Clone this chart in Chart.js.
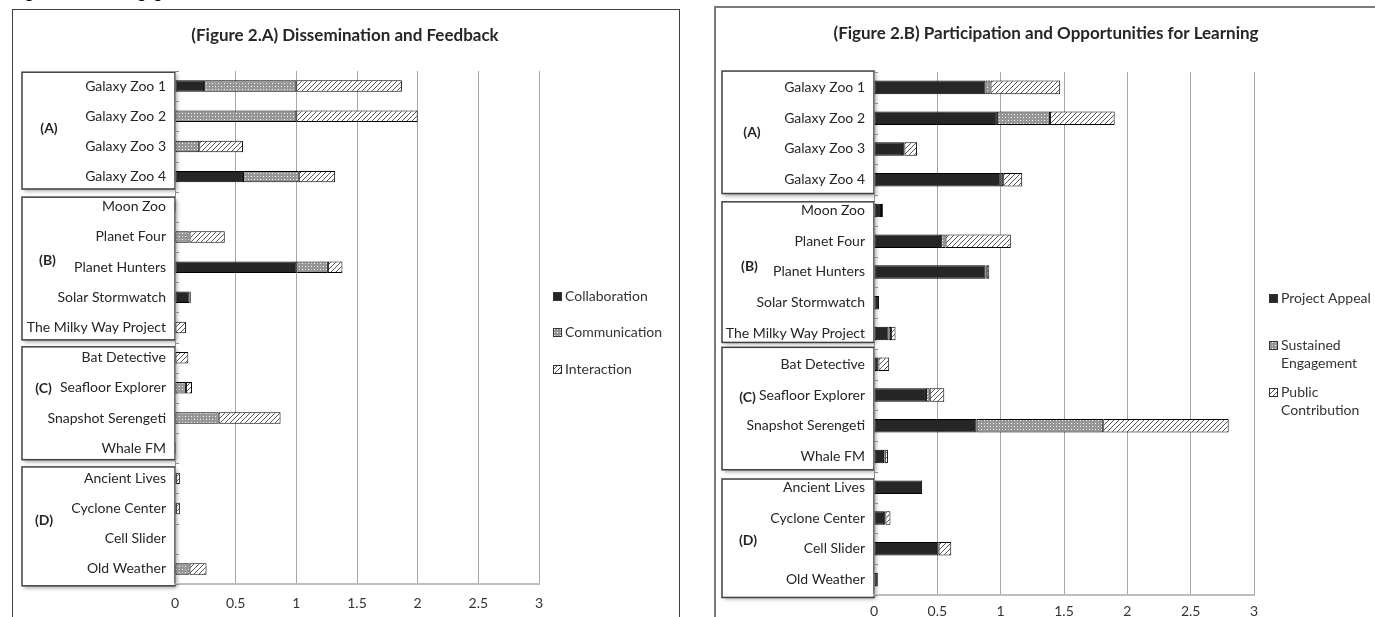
<!DOCTYPE html>
<html>
<head>
<meta charset="utf-8">
<script src="https://cdn.jsdelivr.net/npm/chart.js@4.4.1/dist/chart.umd.min.js"></script>
<style>
body { margin: 0; background: #fff; width: 1375px; height: 617px; overflow: hidden; position: relative; }
.frame { position: absolute; box-sizing: border-box; }
#frameA { left: 12px; top: 9px; width: 668px; height: 640px; border: 1px solid #404040; }
#frameB { left: 714px; top: 6px; width: 700px; height: 640px; border-top: 2px solid #7a7a7a; border-left: 2px solid #7a7a7a; }
canvas { position: absolute; left: 0; top: 0; }
#heading { position: absolute; left: 14px; top: -18px; font: italic bold 16px Lato; color: #000; white-space: nowrap; }
</style>
</head>
<body>
<div id="heading">Figure 2: Public Engagement</div>
<div class="frame" id="frameA"><canvas id="chartA" width="666" height="607"></canvas></div>
<div class="frame" id="frameB"><canvas id="chartB" width="659" height="609"></canvas></div>
<script>
const projects = ['Galaxy Zoo 1', 'Galaxy Zoo 2', 'Galaxy Zoo 3', 'Galaxy Zoo 4',
    'Moon Zoo', 'Planet Four', 'Planet Hunters', 'Solar Stormwatch', 'The Milky Way Project',
    'Bat Detective', 'Seafloor Explorer', 'Snapshot Serengeti', 'Whale FM',
    'Ancient Lives', 'Cyclone Center', 'Cell Slider', 'Old Weather'];
const groupNames = ['(A)', '(B)', '(C)', '(D)'];
const xTicks = [0, 0.5, 1, 1.5, 2, 2.5, 3];

// Figure 2.A
const collaboration = [0.24, 0, 0, 0.56, 0.01, 0, 1.0, 0.12, 0, 0, 0, 0, 0, 0.01, 0.01, 0, 0];
const communication = [0.76, 1.0, 0.2, 0.46, 0, 0.12, 0.26, 0, 0, 0, 0.09, 0.36, 0, 0, 0, 0, 0.12];
const interaction   = [0.87, 1.0, 0.36, 0.30, 0, 0.29, 0.12, 0.01, 0.09, 0.11, 0.05, 0.51, 0.01, 0.03, 0.03, 0, 0.14];

// Figure 2.B
const projectAppeal       = [0.88, 0.97, 0.23, 1.0, 0.055, 0.53, 0.88, 0.04, 0.115, 0.035, 0.41, 0.81, 0.08, 0.38, 0.08, 0.51, 0.03];
const sustainedEngagement = [0.04, 0.42, 0.01, 0.02, 0, 0.035, 0.01, 0, 0.02, 0, 0.03, 1.0, 0.005, 0, 0.01, 0, 0];
const publicContribution  = [0.55, 0.51, 0.10, 0.15, 0.015, 0.515, 0.02, 0, 0.035, 0.085, 0.115, 0.99, 0.025, 0, 0.04, 0.10, 0];

function makePattern(kind) {
    const c = document.createElement('canvas');
    const s = kind === 'hatch' ? 5 : 6;
    c.width = s; c.height = s;
    const g = c.getContext('2d');
    if (kind === 'hatch') {
        g.fillStyle = '#fff';
        g.fillRect(0, 0, s, s);
        g.strokeStyle = '#404040';
        g.lineWidth = 0.9;
        g.beginPath();
        g.moveTo(-1, s + 1); g.lineTo(s + 1, -1);
        g.moveTo(-1, 1); g.lineTo(1, -1);
        g.moveTo(s - 1, s + 1); g.lineTo(s + 1, s - 1);
        g.stroke();
    } else {
        g.fillStyle = '#969696';
        g.fillRect(0, 0, s, s);
        g.fillStyle = '#ffffff';
        g.fillRect(1, 1, 1, 1);
        g.fillRect(4, 4, 1, 1);
        g.fillStyle = '#cfcfcf';
        g.fillRect(4, 1, 1, 1);
        g.fillRect(1, 4, 1, 1);
    }
    return document.createElement('canvas').getContext('2d').createPattern(c, 'repeat');
}

const solid = '#262626';
const dots = makePattern('dots');
const hatch = makePattern('hatch');
const labelFont = { family: 'Lato', size: 14 };

const nullZero = arr => arr.map(v => (v === 0 ? null : v));

// boxes round the category labels, in category units
const boxPlugin = {
    id: 'groupBoxes',
    beforeDraw(chart, args, opts) {
        const { ctx } = chart;
        const y = chart.scales.y;
        ctx.save();
        opts.boxes.forEach((b, i) => {
            const top = y.getPixelForValue(b[0]);
            const bottom = y.getPixelForValue(b[1]);
            ctx.shadowColor = 'rgba(0,0,0,0.35)';
            ctx.shadowBlur = 4;
            ctx.shadowOffsetX = 2;
            ctx.shadowOffsetY = 2;
            ctx.fillStyle = '#fff';
            ctx.fillRect(opts.left, top, y.right - opts.left, bottom - top);
            ctx.shadowColor = 'transparent';
            ctx.strokeStyle = '#404040';
            ctx.lineWidth = 1.5;
            ctx.strokeRect(opts.left, top, y.right - opts.left, bottom - top);
            ctx.fillStyle = '#262626';
            ctx.font = 'bold 14px Lato';
            ctx.textAlign = 'center';
            ctx.textBaseline = 'middle';
            ctx.fillText(groupNames[i], opts.labelX[i], y.getPixelForValue(opts.labelAt[i]));
        });
        ctx.restore();
    },
    afterDraw(chart) {
        const { ctx, chartArea } = chart;
        const n = projects.length;
        const step = (chartArea.bottom - chartArea.top) / n;
        ctx.save();
        ctx.strokeStyle = '#8c8c8c';
        ctx.lineWidth = 1;
        for (let i = 0; i <= n; i++) {
            const yy = Math.round(chartArea.top + i * step) + 0.5;
            ctx.beginPath();
            ctx.moveTo(chartArea.left, yy);
            ctx.lineTo(chartArea.left + 4, yy);
            ctx.stroke();
        }
        ctx.restore();
    }
};

const titlePlugin = {
    id: 'fixedTitle',
    afterDraw(chart, args, opts) {
        const { ctx } = chart;
        ctx.save();
        ctx.font = 'bold 17px Lato';
        ctx.fillStyle = '#262626';
        ctx.textAlign = 'center';
        ctx.textBaseline = 'middle';
        ctx.fillText(opts.text, opts.x, opts.y);
        ctx.restore();
    }
};

const legendPlugin = {
    id: 'sideLegend',
    afterDraw(chart, args, opts) {
        const { ctx, chartArea } = chart;
        ctx.save();
        ctx.font = '14px Lato';
        ctx.textBaseline = 'middle';
        ctx.textAlign = 'left';
        chart.data.datasets.forEach((ds, i) => {
            const y0 = chartArea.top + opts.offsets[i];
            const mx = chartArea.right + opts.markerGap;
            ctx.fillStyle = ds.backgroundColor;
            ctx.fillRect(mx, y0 - 4, 8, 8);
            ctx.strokeStyle = '#333';
            ctx.lineWidth = 1;
            ctx.strokeRect(mx + 0.5, y0 - 3.5, 8, 8);
            ctx.fillStyle = '#333';
            opts.lines[i].forEach((t, k) => ctx.fillText(t, mx + 12, y0 + k * 18));
        });
        ctx.restore();
    }
};

function buildChart(id, series, cfg) {
    return new Chart(document.getElementById(id), {
        type: 'bar',
        data: {
            labels: projects,
            datasets: series.map(s => ({
                label: s.label,
                data: nullZero(s.data),
                backgroundColor: s.fill,
                borderColor: '#000',
                borderWidth: 1,
                borderSkipped: false,
                barPercentage: cfg.barPct,
                categoryPercentage: 1
            }))
        },
        options: {
            indexAxis: 'y',
            responsive: false,
            animation: false,
            layout: { padding: { top: cfg.padTop, right: cfg.padRight, left: 0, bottom: 0 } },
            plugins: {
                legend: { display: false },
                tooltip: { enabled: false },
                groupBoxes: { boxes: cfg.boxes, labelAt: cfg.labelAt, left: cfg.boxLeft, labelX: cfg.labelX },
                fixedTitle: { text: cfg.title, x: cfg.titleX, y: cfg.titleY },
                sideLegend: { offsets: cfg.legendOffsets, lines: cfg.legendLines, markerGap: cfg.markerGap }
            },
            scales: {
                x: {
                    stacked: true,
                    min: 0,
                    max: 3,
                    afterBuildTicks: scale => { scale.ticks = xTicks.map(v => ({ value: v })); },
                    afterFit: scale => { scale.height = cfg.xHeight; },
                    grid: { color: '#a6a6a6', drawTicks: false },
                    border: { color: '#bdbdbd', width: 2 },
                    ticks: { color: '#333', font: labelFont, padding: cfg.xPad, callback: v => String(v) }
                },
                y: {
                    stacked: true,
                    afterFit: scale => { scale.width = cfg.yWidth; },
                    grid: { display: false },
                    border: { color: '#8c8c8c' },
                    ticks: { color: '#262626', font: labelFont, padding: 1, autoSkip: false }
                }
            }
        },
        plugins: [boxPlugin, titlePlugin, legendPlugin]
    });
}

buildChart('chartA', [
    { label: 'Collaboration', data: collaboration, fill: solid },
    { label: 'Communication', data: communication, fill: dots },
    { label: 'Interaction', data: interaction, fill: hatch }
], {
    title: '(Figure 2.A) Dissemination and Feedback', titleX: 332, titleY: 26,
    padTop: 61, padRight: 140, yWidth: 162, xHeight: 33, xPad: 11, barPct: 0.38,
    boxes: [[-0.46, 3.41], [3.68, 8.41], [8.64, 12.38], [12.62, 16.56]],
    labelAt: [1.39, 5.79, 10.03, 14.4], boxLeft: 9, labelX: [36, 34.5, 30.5, 31], 
    legendOffsets: [225, 261, 298], markerGap: 14,
    legendLines: [['Collaboration'], ['Communication'], ['Interaction']]
});

buildChart('chartB', [
    { label: 'Project Appeal', data: projectAppeal, fill: solid },
    { label: 'Sustained Engagement', data: sustainedEngagement, fill: dots },
    { label: 'Public Contribution', data: publicContribution, fill: hatch }
], {
    title: '(Figure 2.B) Participation and Opportunities for Learning', titleX: 330, titleY: 26,
    padTop: 64, padRight: 121, yWidth: 158, xHeight: 22, xPad: 8, barPct: 0.44,
    boxes: [[-0.53, 3.45], [3.72, 8.29], [8.45, 12.43], [12.73, 16.58]],
    labelAt: [1.45, 5.82, 10.07, 14.74], boxLeft: 6, labelX: [36, 33.5, 31.5, 32],
    legendOffsets: [226, 273, 320], markerGap: 15,
    legendLines: [['Project Appeal'], ['Sustained', 'Engagement'], ['Public', 'Contribution']]
});
</script>
</body>
</html>
